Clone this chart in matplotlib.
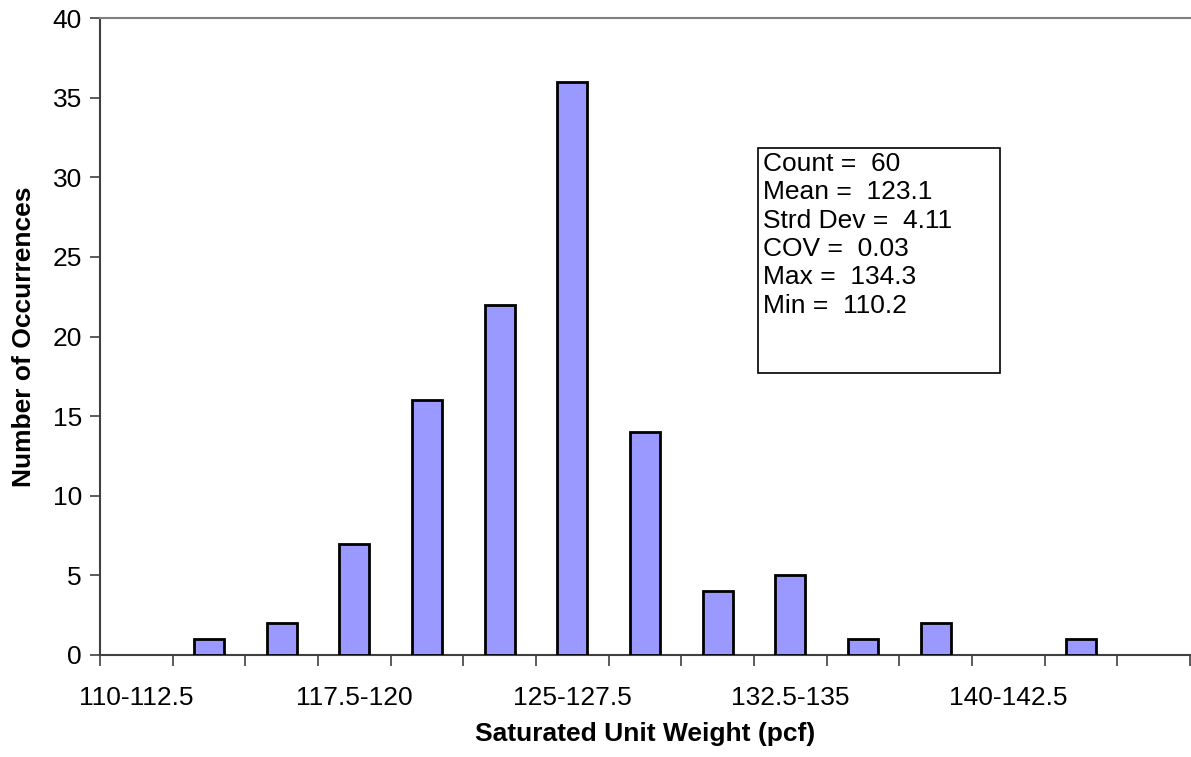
import matplotlib
matplotlib.use("Agg")
import matplotlib.pyplot as plt
from matplotlib.patches import Rectangle
import numpy as np

plt.rcParams['font.family'] = ['Liberation Sans', 'DejaVu Sans']

# bins of 2.5 pcf from 110 to 147.5
bin_labels = ['110-112.5', '112.5-115', '115-117.5', '117.5-120', '120-122.5',
              '122.5-125', '125-127.5', '127.5-130', '130-132.5', '132.5-135',
              '135-137.5', '137.5-140', '140-142.5', '142.5-145', '145-147.5']
counts = [0, 1, 2, 7, 16, 22, 36, 14, 4, 5, 1, 2, 0, 1, 0]
stats_lines = ['Count =  60', 'Mean =  123.1', 'Strd Dev =  4.11',
               'COV =  0.03', 'Max =  134.3', 'Min =  110.2']

fig = plt.figure(figsize=(11.91, 7.57), dpi=100)
ax = fig.add_axes([100 / 1191, 102 / 757, 1090 / 1191, 637 / 757])

x = np.arange(len(bin_labels))
bars = ax.bar(x, counts, width=0.41, color='#9999ff', edgecolor='black',
              linewidth=2, zorder=3)
for b, c in zip(bars, counts):
    if c == 0:
        b.set_visible(False)

ax.set_xlim(-0.5, len(bin_labels) - 0.5)
ax.set_ylim(0, 40)
ax.set_yticks(np.arange(0, 41, 5))
ax.tick_params(axis='y', labelsize=19, length=7, width=1.2,
               color='#404040', pad=6)

# category boundaries carry the tick marks, labels every third bin
ax.set_xticks(np.arange(-0.5, len(bin_labels), 1.0))
ax.set_xticklabels([])
ax.tick_params(axis='x', length=8, width=1.2, color='#404040')
ax.set_xticks(x[::3], minor=True)
ax.set_xticklabels(bin_labels[::3], minor=True)
ax.tick_params(axis='x', which='minor', length=0, labelsize=19, pad=22)

for side in ['left', 'bottom']:
    ax.spines[side].set_color('#404040')
    ax.spines[side].set_linewidth(1.5)
ax.spines['top'].set_color('#808080')
ax.spines['top'].set_linewidth(1.5)
ax.spines['right'].set_visible(False)

ax.set_xlabel('Saturated Unit Weight (pcf)', fontsize=19, fontweight='bold',
              labelpad=9)
ax.set_ylabel('Number of Occurrences', fontsize=19, fontweight='bold',
              labelpad=12)

# summary statistics box
ax.add_patch(Rectangle((0.6037, 0.4427), 0.2220, 0.3532, transform=ax.transAxes,
                       facecolor='white', edgecolor='black', linewidth=1.2,
                       zorder=4))
ax.text(0.6085, 0.7900, '\n'.join(stats_lines), transform=ax.transAxes,
        ha='left', va='top', fontsize=19, linespacing=1.23, zorder=5)

fig.savefig('out.png', dpi=100)
